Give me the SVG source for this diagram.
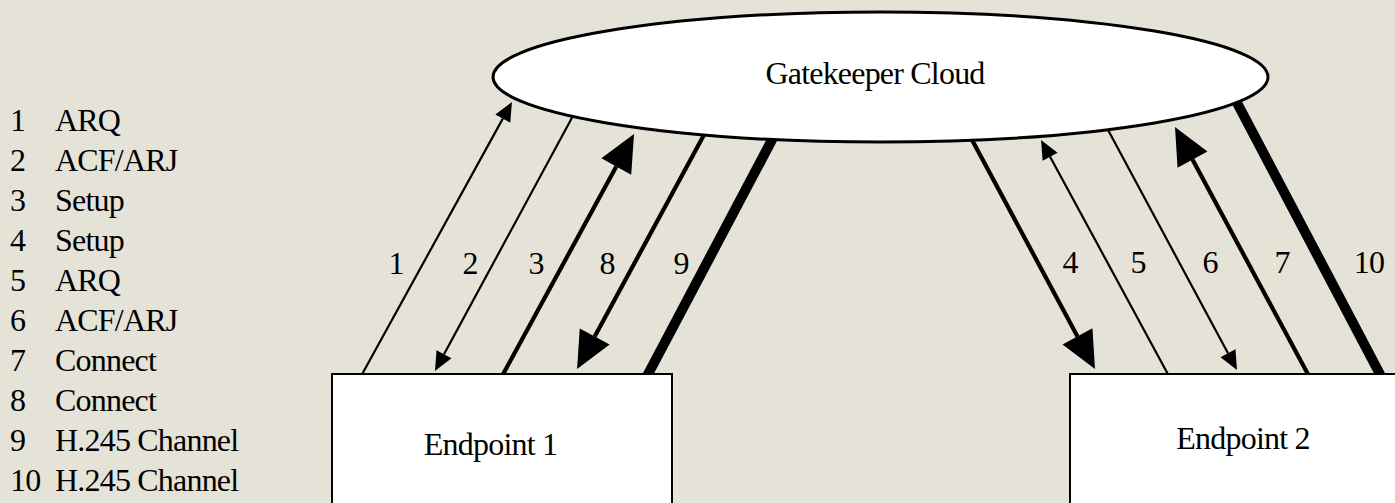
<svg xmlns="http://www.w3.org/2000/svg" width="1395" height="503" viewBox="0 0 1395 503">
<defs>
<style>
text{font-family:"Liberation Serif","Times New Roman",serif;font-size:32px;letter-spacing:-0.8px;fill:#000}
.thin{stroke:#000;stroke-width:2.2;fill:none}
.med{stroke:#000;stroke-width:4.2;fill:none}
.thick{stroke:#000;stroke-width:10;fill:none}
.box{fill:#fff;stroke:#000;stroke-width:2}
.cloud{fill:#fff;stroke:#000;stroke-width:3}
</style>
<marker id="sm" markerUnits="userSpaceOnUse" viewBox="0 -8.5 19 17" markerWidth="19" markerHeight="17" refX="0" refY="0" orient="auto" overflow="visible"><path d="M0,-8.5 L19,0 L0,8.5 z" fill="#000"/></marker>
<marker id="bg" markerUnits="userSpaceOnUse" viewBox="0 -17 37 34" markerWidth="37" markerHeight="34" refX="0" refY="0" orient="auto" overflow="visible"><path d="M0,-17 L37,0 L0,17 z" fill="#000"/></marker>
</defs>
<rect x="0" y="0" width="1395" height="503" fill="#E5E3D8"/>
<g id="legend">
<text y="131"><tspan x="10">1</tspan><tspan x="55">ARQ</tspan></text>
<text y="171"><tspan x="10">2</tspan><tspan x="55">ACF/ARJ</tspan></text>
<text y="211"><tspan x="10">3</tspan><tspan x="55">Setup</tspan></text>
<text y="251"><tspan x="10">4</tspan><tspan x="55">Setup</tspan></text>
<text y="291"><tspan x="10">5</tspan><tspan x="55">ARQ</tspan></text>
<text y="331"><tspan x="10">6</tspan><tspan x="55">ACF/ARJ</tspan></text>
<text y="371"><tspan x="10">7</tspan><tspan x="55">Connect</tspan></text>
<text y="411"><tspan x="10">8</tspan><tspan x="55">Connect</tspan></text>
<text y="451"><tspan x="10">9</tspan><tspan x="55">H.245 Channel</tspan></text>
<text y="491"><tspan x="10">10</tspan><tspan x="55">H.245 Channel</tspan></text>
</g>
<g id="connectors">
<line class="thin" x1="360" y1="378" x2="502.8" y2="118.6" marker-end="url(#sm)"/>
<line class="thin" x1="574" y1="114" x2="444.0" y2="354.3" marker-end="url(#sm)"/>
<line class="med" x1="501" y1="378" x2="616.3" y2="166.5" marker-end="url(#bg)"/>
<line class="med" x1="705" y1="133" x2="594.7" y2="336.5" marker-end="url(#bg)"/>
<line class="thick" x1="774" y1="136" x2="646" y2="378"/>
<line class="med" x1="971" y1="138" x2="1077.5" y2="336.4" marker-end="url(#bg)"/>
<line class="thin" x1="1170" y1="378" x2="1050.1" y2="156.7" marker-end="url(#sm)"/>
<line class="thin" x1="1107" y1="128" x2="1228.0" y2="353.3" marker-end="url(#sm)"/>
<line class="med" x1="1310" y1="378" x2="1192.5" y2="159.6" marker-end="url(#bg)"/>
<line class="thick" x1="1235" y1="99" x2="1382" y2="378"/>
</g>
<g id="labels">
<text x="396" y="274" text-anchor="middle">1</text>
<text x="470" y="274" text-anchor="middle">2</text>
<text x="536" y="274" text-anchor="middle">3</text>
<text x="607" y="274" text-anchor="middle">8</text>
<text x="681" y="274" text-anchor="middle">9</text>
<text x="1070" y="273" text-anchor="middle">4</text>
<text x="1138" y="273" text-anchor="middle">5</text>
<text x="1210" y="273" text-anchor="middle">6</text>
<text x="1282" y="273" text-anchor="middle">7</text>
<text x="1369" y="273" text-anchor="middle">10</text>
</g>
<g id="gatekeeper">
<ellipse class="cloud" cx="880.5" cy="77" rx="387.5" ry="65"/>
<text x="875" y="84" text-anchor="middle">Gatekeeper Cloud</text>
</g>
<g id="endpoint1">
<rect class="box" x="332" y="374" width="340" height="140"/>
<text x="490.5" y="455" text-anchor="middle">Endpoint 1</text>
</g>
<g id="endpoint2">
<rect class="box" x="1070" y="374" width="340" height="140"/>
<text x="1243" y="449" text-anchor="middle">Endpoint 2</text>
</g>
</svg>
